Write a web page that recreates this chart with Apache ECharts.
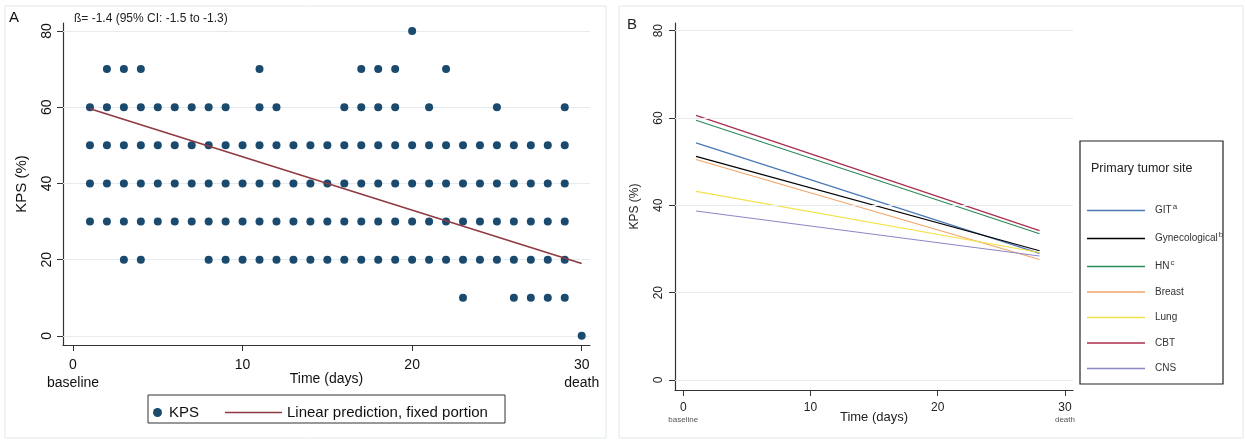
<!DOCTYPE html>
<html>
<head>
<meta charset="utf-8">
<script src="https://cdn.jsdelivr.net/npm/echarts@6/dist/echarts.min.js"></script>
<style>
  html, body { margin: 0; padding: 0; background: #fff; }
  #chart { width: 1245px; height: 440px; }
</style>
</head>
<body>
<div id="chart"></div>
<script>
// panel A: observed KPS per day (day, value)
const kpsLevels = [0, 10, 20, 30, 40, 50, 60, 70, 80]
const daysAtLevel = {
  80: [20],
  70: [2, 3, 4, 11, 17, 18, 19, 22],
  60: [1, 2, 3, 4, 5, 6, 7, 8, 9, 11, 12, 16, 17, 18, 19, 21, 25, 29],
  50: [1, 2, 3, 4, 5, 6, 7, 8, 9, 10, 11, 12, 13, 14, 15, 16, 17, 18, 19, 20, 21, 22, 23, 24, 25, 26, 27, 28, 29],
  40: [1, 2, 3, 4, 5, 6, 7, 8, 9, 10, 11, 12, 13, 14, 15, 16, 17, 18, 19, 20, 21, 22, 23, 24, 25, 26, 27, 28, 29],
  30: [1, 2, 3, 4, 5, 6, 7, 8, 9, 10, 11, 12, 13, 14, 15, 16, 17, 18, 19, 20, 21, 22, 23, 24, 25, 26, 27, 28, 29],
  20: [3, 4, 8, 9, 10, 11, 12, 13, 14, 15, 16, 17, 18, 19, 20, 21, 22, 23, 24, 25, 26, 27, 28, 29],
  10: [23, 26, 27, 28, 29],
  0: [30]
}
const fitDays = [1, 30]
const fitKps = [59.6, 19.0]

// panel B: predicted lines per primary tumor site
const siteNames = ['GIT', 'Gynecological', 'HN', 'Breast', 'Lung', 'CBT', 'CNS']
const siteSup = ['a', 'b', 'c', '', '', '', '']
const siteColors = ['#4a78b4', '#000000', '#2a8a58', '#f2a56a', '#f2e24a', '#a82c4c', '#8c88c8']
const lineDays = [1, 28]
const startKps = [54.3, 51.2, 59.5, 50.5, 43.2, 60.6, 38.7]
const endKps = [29.0, 29.6, 33.5, 27.6, 29.2, 34.2, 28.4]

const xTicks = [0, 10, 20, 30]
const yTicks = [0, 20, 40, 60, 80]

const font = 'Liberation Sans, Arial, sans-serif'

const scatterData = []
kpsLevels.forEach(lv => {
  daysAtLevel[lv].forEach(d => scatterData.push([d, lv]))
})

const gridLines = yTicks.map(v => ({ yAxis: v }))
const gridLineStyle = { color: '#e5ebee', width: 1, type: 'solid' }

const chart = echarts.init(document.getElementById('chart'), null, { renderer: 'canvas' })

const option = {
  animation: false,
  backgroundColor: '#fff',
  textStyle: { fontFamily: font },
  grid: [
    { left: 63, top: 23, width: 527, height: 322 },
    { left: 675, top: 23, width: 398, height: 367 }
  ],
  xAxis: [
    {
      gridIndex: 0, type: 'value', min: -0.59, max: 30.49,
      name: 'Time (days)', nameLocation: 'middle', nameGap: 27, nameMoveOverlap: false,
      nameTextStyle: { fontSize: 14, color: '#111', fontFamily: font },
      axisLine: { onZero: false, lineStyle: { color: '#333', width: 1.2 } },
      axisTick: { customValues: xTicks, length: 6, lineStyle: { color: '#333' } },
      axisLabel: {
        customValues: xTicks, margin: 11, color: '#111', fontSize: 14, lineHeight: 18,
        formatter: v => v === 0 ? '0\nbaseline' : (v === 30 ? '30\ndeath' : String(v))
      },
      splitLine: { show: false }
    },
    {
      gridIndex: 1, type: 'value', min: -0.65, max: 30.63,
      name: 'Time (days)', nameLocation: 'middle', nameGap: 21, nameMoveOverlap: false,
      nameTextStyle: { fontSize: 13, color: '#222', fontFamily: font },
      axisLine: { onZero: false, lineStyle: { color: '#333', width: 1.2 } },
      axisTick: { customValues: xTicks, length: 6, lineStyle: { color: '#333' } },
      axisLabel: {
        customValues: xTicks, margin: 11, color: '#222',
        formatter: v => v === 0 ? '{v|0}\n{s|baseline}' : (v === 30 ? '{v|30}\n{s|death}' : '{v|' + v + '}'),
        rich: {
          v: { fontSize: 12, color: '#222', lineHeight: 13, fontFamily: font },
          s: { fontSize: 8, color: '#555', lineHeight: 11, fontFamily: font }
        }
      },
      splitLine: { show: false }
    }
  ],
  yAxis: [
    {
      gridIndex: 0, type: 'value', min: -2.4, max: 82.1,
      name: 'KPS (%)', nameLocation: 'middle', nameGap: 34, nameMoveOverlap: false,
      nameTextStyle: { fontSize: 15, color: '#111', fontFamily: font },
      axisLine: { onZero: false, lineStyle: { color: '#333', width: 1.2 } },
      axisTick: { customValues: yTicks, length: 6, lineStyle: { color: '#333' } },
      axisLabel: { customValues: yTicks, rotate: 90, margin: 9, color: '#111', fontSize: 14 },
      splitLine: { show: false }
    },
    {
      gridIndex: 1, type: 'value', min: -2.29, max: 81.76,
      name: 'KPS (%)', nameLocation: 'middle', nameGap: 34, nameMoveOverlap: false,
      nameTextStyle: { fontSize: 12, color: '#222', fontFamily: font },
      axisLine: { onZero: false, lineStyle: { color: '#333', width: 1.2 } },
      axisTick: { customValues: yTicks, length: 6, lineStyle: { color: '#333' } },
      axisLabel: { customValues: yTicks, rotate: 90, margin: 10, color: '#222', fontSize: 12 },
      splitLine: { show: false }
    }
  ],
  legend: [
    {
      data: [{ name: 'KPS', icon: 'circle' }],
      left: 148, top: 400, itemWidth: 9, itemHeight: 9, itemGap: 0,
      textStyle: { fontSize: 15, color: '#111', fontFamily: font, padding: [0, 0, 0, 2] },
      selectedMode: false
    },
    {
      data: [{ name: 'Linear prediction, fixed portion', icon: 'rect' }],
      left: 220, top: 400, itemWidth: 57, itemHeight: 1.6,
      textStyle: { fontSize: 15, color: '#111', fontFamily: font },
      selectedMode: false
    },
    {
      data: siteNames.map(n => ({ name: n, icon: 'rect' })),
      orient: 'vertical', left: 1082, top: 198,
      itemWidth: 58, itemHeight: 1.3, itemGap: 15.5,
      selectedMode: false,
      formatter: name => {
        const i = siteNames.indexOf(name)
        return siteSup[i] ? '{t|' + name + '}{u|' + siteSup[i] + '}' : '{t|' + name + '}'
      },
      textStyle: {
        fontFamily: font,
        rich: {
          t: { fontSize: 10, color: '#333', fontFamily: font, padding: [0, 0, 0, 5] },
          u: { fontSize: 8, color: '#333', verticalAlign: 'top', padding: [0, 0, 7, 1], fontFamily: font }
        }
      }
    }
  ],
  graphic: [
    { type: 'rect', shape: { x: 5, y: 6, width: 601, height: 432 }, style: { fill: 'none', stroke: '#e2e8e8', lineWidth: 1 }, silent: true },
    { type: 'rect', shape: { x: 619, y: 6, width: 624, height: 432 }, style: { fill: 'none', stroke: '#e2e8e8', lineWidth: 1 }, silent: true },
    { type: 'text', left: 9, top: 10, style: { text: 'A', fontSize: 15, fill: '#111', fontFamily: font } },
    { type: 'text', left: 627, top: 17, style: { text: 'B', fontSize: 15, fill: '#222', fontFamily: font } },
    { type: 'text', left: 74, top: 13, style: { text: 'ß= -1.4 (95% CI: -1.5 to -1.3)', fontSize: 12, fill: '#222', fontFamily: font } },
    { type: 'rect', shape: { x: 148, y: 395, width: 357, height: 28 }, style: { fill: 'none', stroke: '#333', lineWidth: 1 }, silent: true },
    { type: 'rect', shape: { x: 1080, y: 141, width: 143, height: 243 }, style: { fill: 'none', stroke: '#222', lineWidth: 1.2 }, silent: true },
    { type: 'text', left: 1091, top: 162, style: { text: 'Primary tumor site', fontSize: 12.5, fill: '#222', fontFamily: font } }
  ],
  series: [
    {
      name: 'KPS', type: 'scatter', xAxisIndex: 0, yAxisIndex: 0,
      data: scatterData, symbol: 'circle', symbolSize: 8,
      itemStyle: { color: '#1a4a6e', opacity: 1 }, z: 3,
      markLine: {
        silent: true, symbol: 'none', label: { show: false },
        lineStyle: gridLineStyle, data: gridLines, z: 1
      }
    },
    {
      name: 'Linear prediction, fixed portion', type: 'line', xAxisIndex: 0, yAxisIndex: 0,
      data: fitDays.map((d, i) => [d, fitKps[i]]), symbol: 'none', showSymbol: false,
      lineStyle: { color: '#8e3a40', width: 1.6 }, itemStyle: { color: '#8e3a40' }, z: 4
    },
    {
      name: '_gridB', type: 'line', xAxisIndex: 1, yAxisIndex: 1, data: [],
      markLine: {
        silent: true, symbol: 'none', label: { show: false },
        lineStyle: gridLineStyle, data: gridLines
      }
    },
    ...siteNames.map((name, i) => ({
      name, type: 'line', xAxisIndex: 1, yAxisIndex: 1,
      data: lineDays.map((d, k) => [d, k === 0 ? startKps[i] : endKps[i]]),
      symbol: 'none', showSymbol: false,
      lineStyle: { color: siteColors[i], width: 1.2 }, itemStyle: { color: siteColors[i] }, z: 3
    }))
  ]
}

chart.setOption(option)
</script>
</body>
</html>
